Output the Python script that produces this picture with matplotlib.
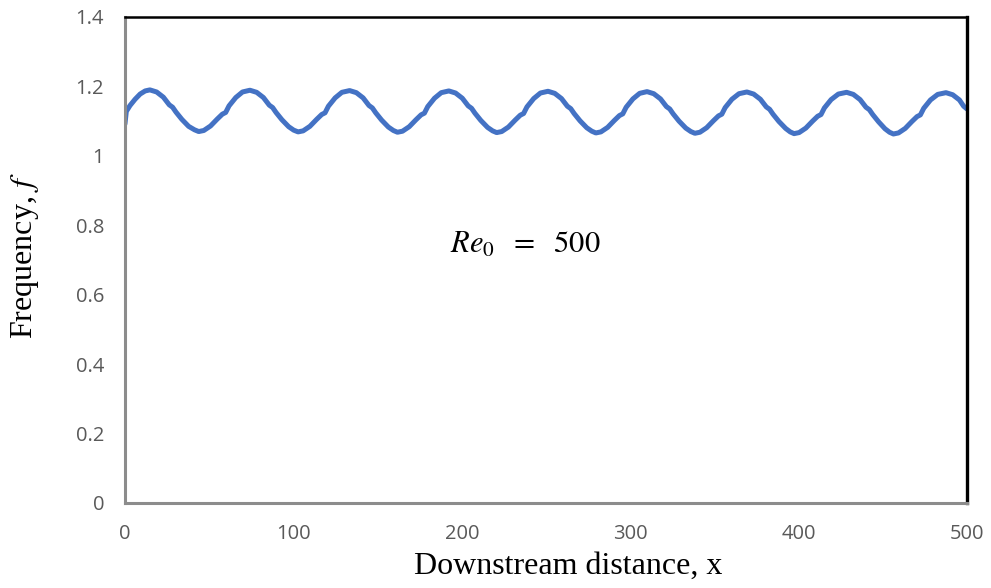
import matplotlib
matplotlib.use("Agg")
import matplotlib.pyplot as plt

# Downstream distance (x) and frequency (f)
x = [0.0, 0.8, 3.0, 6.0, 9.0, 12.0,
     14.8, 18.8, 22.8, 26.3, 28.3, 30.3, 33.8, 37.8, 41.3,
     43.8, 46.8, 50.8, 54.8, 57.8, 59.8, 61.8, 65.8, 69.8,
     74.2, 78.2, 82.2, 85.7, 87.7, 89.7, 93.2, 97.2, 100.2,
     102.8, 105.8, 109.8, 113.8, 116.8, 118.8, 120.8, 124.8, 128.8,
     133.4, 137.4, 141.4, 144.9, 146.9, 148.9, 152.4, 156.4, 159.4,
     161.8, 164.8, 168.8, 172.8, 175.8, 177.8, 179.8, 183.8, 187.8,
     192.3, 196.3, 200.3, 203.8, 205.8, 207.8, 211.3, 215.3, 218.3,
     220.7, 223.7, 227.7, 231.7, 234.7, 236.7, 238.7, 242.7, 246.7,
     251.2, 255.2, 259.2, 262.7, 264.7, 266.7, 270.2, 274.2, 277.2,
     279.6, 282.6, 286.6, 290.6, 293.6, 295.6, 297.6, 301.6, 305.6,
     310.0, 314.0, 318.0, 321.5, 323.5, 325.5, 329.0, 333.0, 336.0,
     338.4, 341.4, 345.4, 349.4, 352.4, 354.4, 356.4, 360.4, 364.6,
     369.3, 373.3, 377.3, 380.8, 382.8, 384.8, 388.3, 392.3, 395.0,
     397.3, 400.3, 404.3, 408.3, 411.3, 413.3, 415.3, 419.3, 423.6,
     428.5, 432.5, 436.5, 440.0, 442.0, 444.0, 447.5, 451.3, 454.0,
     456.3, 459.3, 463.3, 467.3, 470.3, 472.3, 474.3, 478.3, 482.6,
     487.5, 491.5, 495.5, 498.0, 500.0]

f = [1.092, 1.128, 1.145, 1.163, 1.178, 1.187,
     1.190, 1.184, 1.169, 1.147, 1.140, 1.126, 1.105, 1.085, 1.075,
     1.070, 1.073, 1.086, 1.106, 1.120, 1.125, 1.144, 1.168, 1.184,
     1.189, 1.183, 1.168, 1.146, 1.139, 1.125, 1.104, 1.084, 1.074,
     1.069, 1.072, 1.085, 1.105, 1.119, 1.124, 1.143, 1.167, 1.183,
     1.188, 1.182, 1.167, 1.145, 1.138, 1.124, 1.103, 1.083, 1.073,
     1.068, 1.071, 1.084, 1.104, 1.118, 1.123, 1.142, 1.166, 1.182,
     1.187, 1.181, 1.166, 1.144, 1.137, 1.123, 1.102, 1.082, 1.072,
     1.067, 1.070, 1.083, 1.103, 1.117, 1.122, 1.141, 1.165, 1.181,
     1.186, 1.180, 1.165, 1.143, 1.136, 1.122, 1.101, 1.081, 1.071,
     1.066, 1.069, 1.082, 1.102, 1.116, 1.121, 1.140, 1.164, 1.180,
     1.185, 1.179, 1.164, 1.142, 1.135, 1.121, 1.100, 1.080, 1.070,
     1.065, 1.068, 1.081, 1.101, 1.115, 1.120, 1.139, 1.163, 1.179,
     1.184, 1.178, 1.163, 1.141, 1.134, 1.120, 1.099, 1.079, 1.069,
     1.064, 1.067, 1.080, 1.100, 1.114, 1.119, 1.138, 1.162, 1.178,
     1.183, 1.177, 1.162, 1.140, 1.133, 1.119, 1.098, 1.078, 1.068,
     1.063, 1.066, 1.079, 1.099, 1.113, 1.118, 1.137, 1.161, 1.177,
     1.182, 1.176, 1.161, 1.143, 1.135]

x_ticks = [0, 100, 200, 300, 400, 500]
y_ticks = [0, 0.2, 0.4, 0.6, 0.8, 1.0, 1.2, 1.4]
y_tick_labels = ["0", "0.2", "0.4", "0.6", "0.8", "1", "1.2", "1.4"]

plt.rcParams['mathtext.fontset'] = 'stix'

fig = plt.figure(figsize=(9.91, 5.88), dpi=100)
ax = fig.add_axes([0.1261, 0.1446, 0.8497, 0.8265])

ax.plot(x, f, color="#4472C4", linewidth=3.6, solid_capstyle="round",
        solid_joinstyle="round")

ax.set_xlim(0, 500)
ax.set_ylim(0, 1.4)
ax.set_xticks(x_ticks)
ax.set_xticklabels([str(t) for t in x_ticks])
ax.set_yticks(y_ticks)
ax.set_yticklabels(y_tick_labels)
ax.tick_params(length=0, labelsize=14.5, labelcolor="#595959")
ax.tick_params(axis="x", pad=15)
ax.tick_params(axis="y", pad=15)
for lab in ax.get_xticklabels() + ax.get_yticklabels():
    lab.set_family(["Open Sans", "DejaVu Sans"])

ax.spines['left'].set_color("#8c8c8c")
ax.spines['left'].set_linewidth(2.2)
ax.spines['bottom'].set_color("#8c8c8c")
ax.spines['bottom'].set_linewidth(2.2)
ax.spines['top'].set_color("black")
ax.spines['top'].set_linewidth(1.8)
ax.spines['right'].set_color("black")
ax.spines['right'].set_linewidth(2.4)

ax.set_xlabel("Downstream distance, x", family="Liberation Serif",
              fontsize=23)
ax.xaxis.set_label_coords(0.526, -0.100)
ax.set_ylabel("Frequency, $f$", family="Liberation Serif", fontsize=23)
ax.yaxis.set_label_coords(-0.100, 0.508)

ax.text(237.5, 0.7205, r"$Re_0\ \ =\ \ 500$", fontsize=22, ha="center",
        va="baseline")

fig.savefig("out.png", dpi=100)
